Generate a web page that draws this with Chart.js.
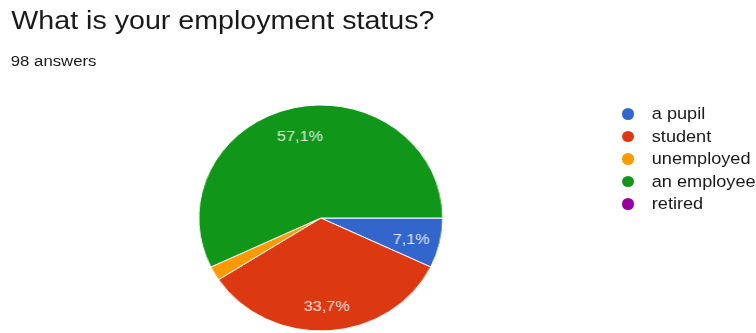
<!DOCTYPE html>
<html>
<head>
<meta charset="utf-8">
<title>What is your employment status?</title>
<script src="https://cdn.jsdelivr.net/npm/chart.js@4.4.1/dist/chart.umd.min.js"></script>
<style>
	html, body { margin:0; padding:0; background:#fff; overflow:hidden; }
	/* the screenshot is a little stretched sideways, so the whole page is too */
	#page { position:relative; width:700px; height:333px; transform-origin:0 0; transform:scaleX(1.08);
		font-family:"Liberation Sans", Arial, Helvetica, sans-serif; color:#1a1a1a; }
	#title { position:absolute; left:10.5px; top:7px; font-size:26.5px; line-height:1; white-space:nowrap; }
	#sub { position:absolute; left:10px; top:53px; font-size:15.5px; line-height:1; white-space:nowrap; }
	#pieBox { position:absolute; left:177.2px; top:98px; width:240px; height:240px; }
	#legend { position:absolute; left:575.5px; top:102.75px; margin:0; padding:0; list-style:none; }
	#legend li { display:flex; align-items:center; height:22.5px; font-size:16.8px; white-space:nowrap; color:#1a1a1a; }
	#legend li span { display:inline-block; width:11.5px; height:11.5px; border-radius:50%; margin-right:16.5px; }
</style>
</head>
<body>
<div id="page">
	<div id="title">What is your employment status?</div>
	<div id="sub">98 answers</div>
	<div id="pieBox"><canvas id="pie_Status" width="240" height="240"></canvas></div>
	<ul id="legend"></ul>
</div>
<script>
	// 응답 데이터
	const statusLabels = ['a pupil', 'student', 'unemployed', 'an employee', 'retired'];
	const statusCounts = [7, 33, 2, 56, 0];
	const statusColors = ['#3366cc', '#dc3912', '#ff9900', '#109618', '#990099'];

	/**
	 * 조각 위 퍼센트 표시
	 */
	const sliceLabels = {
		id : 'sliceLabels',
		afterDatasetsDraw(chart) {
			const ctx = chart.ctx;
			const meta = chart.getDatasetMeta(0);
			const data = chart.data.datasets[0].data;
			const total = data.reduce((a, b) => a + b, 0);
			ctx.save();
			ctx.font = '15px "Liberation Sans", Arial, sans-serif';
			ctx.fillStyle = 'rgba(255, 255, 255, 0.85)';
			ctx.textAlign = 'center';
			ctx.textBaseline = 'middle';
			meta.data.forEach((arc, i) => {
				const pct = data[i] / total * 100;
				if (pct < 5) return; // 작은 조각은 표시 안함
				const p = arc.getProps(['x', 'y', 'startAngle', 'endAngle', 'outerRadius'], true);
				const mid = (p.startAngle + p.endAngle) / 2;
				const r = p.outerRadius * 0.76;
				ctx.fillText(pct.toFixed(1).replace('.', ',') + '%', p.x + Math.cos(mid) * r, p.y + Math.sin(mid) * r + 3);
			});
			ctx.restore();
		}
	};

	/**
	 * html 범례
	 */
	const htmlLegend = {
		id : 'htmlLegend',
		afterUpdate(chart) {
			const ul = document.getElementById('legend');
			ul.innerHTML = '';
			const items = chart.options.plugins.legend.labels.generateLabels(chart);
			items.forEach(item => {
				const li = document.createElement('li');
				const dot = document.createElement('span');
				dot.style.background = item.fillStyle;
				li.appendChild(dot);
				li.appendChild(document.createTextNode(item.text));
				ul.appendChild(li);
			});
		}
	};

	let statusChart = new Chart(document.getElementById('pie_Status'), {
		type : 'pie',
		data : {
			labels : statusLabels,
			datasets : [{
				data : statusCounts,
				backgroundColor : statusColors,
				borderColor : '#fff',
				borderWidth : 1
			}]
		},
		options : {
			responsive : false,
			animation : false,
			rotation : 90, // 3시 방향부터 시작
			radius : 113,
			layout : { padding : 0 },
			plugins : {
				legend : { display : false },
				tooltip : { enabled : false }
			}
		},
		plugins : [sliceLabels, htmlLegend]
	});
</script>
</body>
</html>
